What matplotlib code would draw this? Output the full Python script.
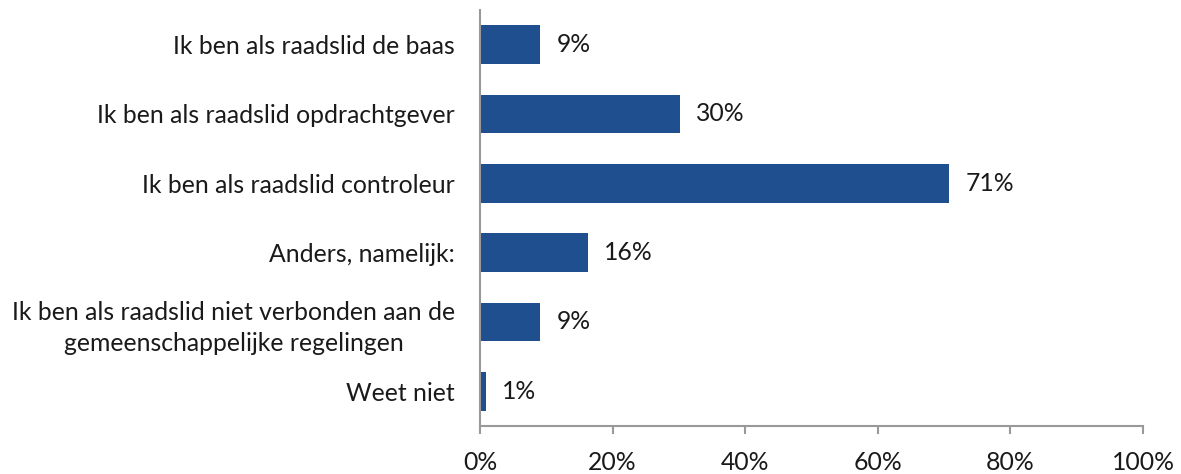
import matplotlib.pyplot as plt

categories = [
    "Ik ben als raadslid de baas",
    "Ik ben als raadslid opdrachtgever",
    "Ik ben als raadslid controleur",
    "Anders, namelijk:",
    "Ik ben als raadslid niet verbonden aan de\ngemeenschappelijke regelingen",
    "Weet niet",
]
values = [9.1, 30.1, 70.8, 16.3, 9.1, 0.9]
xticks = [0, 20, 40, 60, 80, 100]


def main():
    plt.rcParams['font.family'] = ['Lato', 'DejaVu Sans']
    fig = plt.figure(figsize=(11.81, 4.74), dpi=100)
    ax = fig.add_axes([0.4064, 0.1013, 0.5614, 0.8777])

    fs = 17.8
    ypos = list(range(len(categories)))
    ax.barh(ypos, values, height=0.56, color='#204F8F')
    for y, v in zip(ypos, values):
        ax.annotate('%d%%' % round(v), (v, y), xytext=(16, 0),
                    textcoords='offset pixels', va='center', ha='left',
                    fontsize=fs, color='#1a1a1a')

    ax.set_ylim(len(categories) - 0.5, -0.5)
    ax.set_xlim(0, 100)
    ax.set_yticks(ypos)
    ax.set_yticklabels(categories, fontsize=fs, color='#1a1a1a')
    # the two-line label is centred and a bit more open in the original
    for lab in ax.get_yticklabels():
        lab.set_multialignment('center')
        lab.set_linespacing(1.4)
    ax.set_xticks(xticks)
    ax.set_xticklabels(['%d%%' % t for t in xticks], fontsize=fs, color='#1a1a1a')

    ax.tick_params(axis='y', length=0, pad=18)
    ax.tick_params(axis='x', length=6, width=1.5, color='#999999', pad=12)
    for s in ['top', 'right']:
        ax.spines[s].set_visible(False)
    for s in ['left', 'bottom']:
        ax.spines[s].set_color('#999999')
        ax.spines[s].set_linewidth(1.5)

    fig.savefig('out.png', dpi=100)


if __name__ == "__main__":
    main()
